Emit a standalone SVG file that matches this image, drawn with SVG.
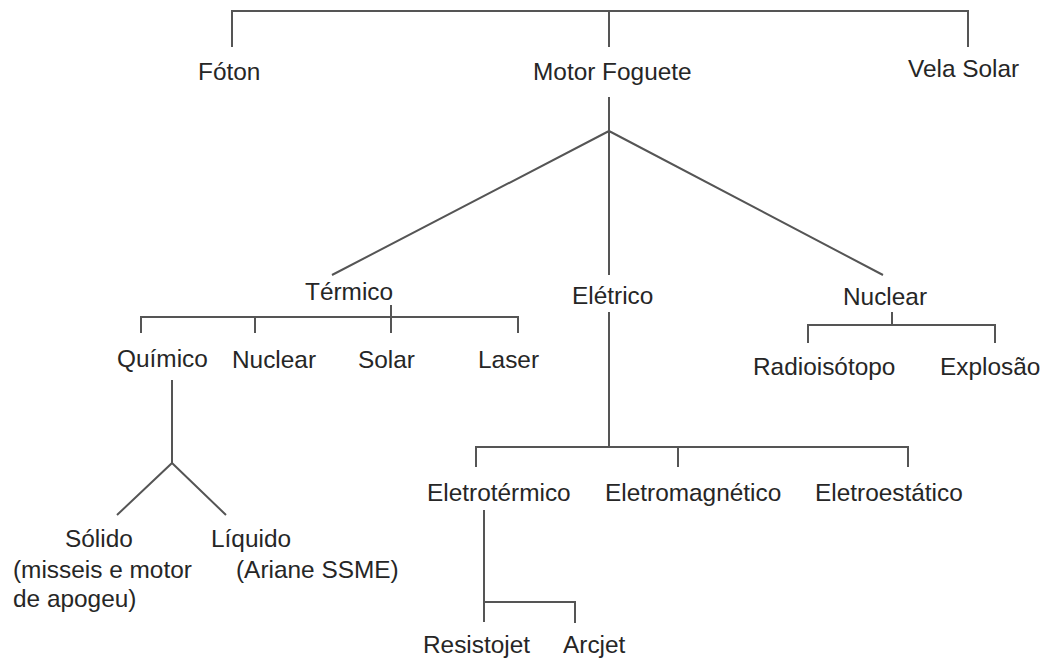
<svg xmlns="http://www.w3.org/2000/svg" width="1047" height="659" viewBox="0 0 1047 659">
<style>
text{font-family:"Liberation Sans",Arial,sans-serif;font-size:24.4px;fill:#262626}
.c{fill:none;stroke:#555;stroke-width:2}
</style>
<rect width="1047" height="659" fill="#fff"/>
<g id="connectors">
<path class="c" d="M232 47V11H968V47M609 11V47"/>
<path class="c" d="M609 97V131M609 131L332 275M609 131L883 275M609 131V275"/>
<path class="c" d="M391 305V317M141 333V317H518V333M255 317V333M391 317V333"/>
<path class="c" d="M892 312V325M808 343V325H995V343"/>
<path class="c" d="M172 380V463L117 515M172 463L226 515"/>
<path class="c" d="M609 312V447M476 467V447H908V467M678 447V467"/>
<path class="c" d="M484 510V622M484 602H575V623"/>
</g>
<g id="foton"><text x="198" y="80">Fóton</text></g>
<g id="motor-foguete"><text x="533" y="80">Motor Foguete</text></g>
<g id="vela-solar"><text x="908" y="77">Vela Solar</text></g>
<g id="termico"><text x="305" y="300">Térmico</text></g>
<g id="eletrico"><text x="572" y="304">Elétrico</text></g>
<g id="nuclear"><text x="843" y="305">Nuclear</text></g>
<g id="quimico"><text x="117" y="367">Químico</text></g>
<g id="nuclear-termico"><text x="232" y="368">Nuclear</text></g>
<g id="solar"><text x="358" y="368">Solar</text></g>
<g id="laser"><text x="478" y="368">Laser</text></g>
<g id="radioisotopo"><text x="753" y="375">Radioisótopo</text></g>
<g id="explosao"><text x="940" y="375">Explosão</text></g>
<g id="solido"><text x="65" y="547">Sólido</text><text x="13" y="578">(misseis e motor</text><text x="13" y="607">de apogeu)</text></g>
<g id="liquido"><text x="211" y="547">Líquido</text><text x="236" y="578">(Ariane SSME)</text></g>
<g id="eletrotermico"><text x="427" y="501">Eletrotérmico</text></g>
<g id="eletromagnetico"><text x="605" y="501">Eletromagnético</text></g>
<g id="eletroestatico"><text x="815" y="501">Eletroestático</text></g>
<g id="resistojet"><text x="423" y="653">Resistojet</text></g>
<g id="arcjet"><text x="563" y="653">Arcjet</text></g>
</svg>
